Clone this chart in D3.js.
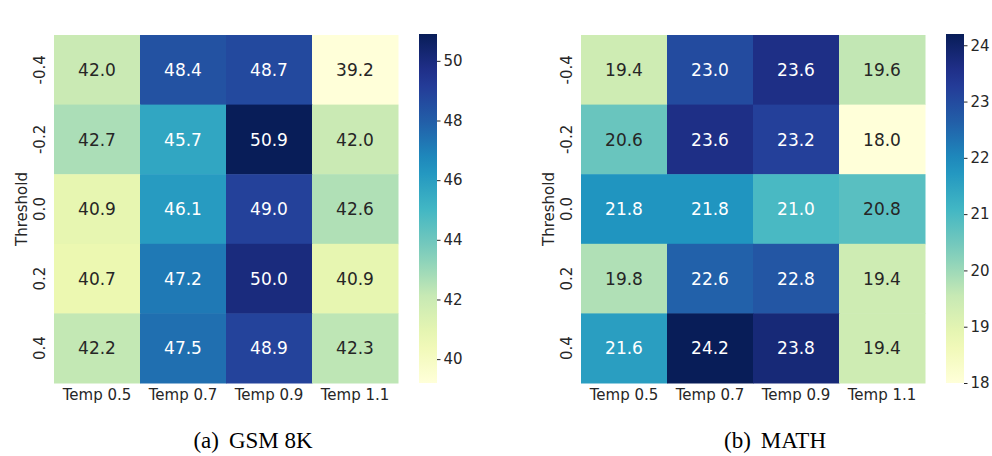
<!DOCTYPE html>
<html>
<head>
<meta charset="utf-8">
<script src="https://cdn.jsdelivr.net/npm/d3@7"></script>
<style>
  body { margin: 0; background: #fff; }
  text { font-family: "DejaVu Sans", sans-serif; }
  .caption { font-family: "Liberation Serif", "Times New Roman", serif; }
</style>
</head>
<body>
<div id="chart"></div>
<script>
// categories
var temps = ['Temp 0.5', 'Temp 0.7', 'Temp 0.9', 'Temp 1.1'];
var thresholds = ['-0.4', '-0.2', '0.0', '0.2', '0.4'];

// values, one row per threshold
var gsm8k = [
    [42.0, 48.4, 48.7, 39.2],
    [42.7, 45.7, 50.9, 42.0],
    [40.9, 46.1, 49.0, 42.6],
    [40.7, 47.2, 50.0, 40.9],
    [42.2, 47.5, 48.9, 42.3]
];
var math = [
    [19.4, 23.0, 23.6, 19.6],
    [20.6, 23.6, 23.2, 18.0],
    [21.8, 21.8, 21.0, 20.8],
    [19.8, 22.6, 22.8, 19.4],
    [21.6, 24.2, 23.8, 19.4]
];

// colorbar ticks
var gsmTicks = [40, 42, 44, 46, 48, 50];
var mathTicks = [18, 19, 20, 21, 22, 23, 24];

// YlGnBu (matplotlib segment colours)
var ylgnbu = ['#ffffd9', '#edf8b1', '#c7e9b4', '#7fcdbb', '#41b6c4',
              '#1d91c0', '#225ea8', '#253494', '#081d58'];
var cmap = d3.scaleLinear()
    .domain(d3.range(9).map(i => i / 8))
    .range(ylgnbu)
    .interpolate(d3.interpolateRgb)
    .clamp(true);

var W = 992, H = 456;
var svg = d3.select('#chart').append('svg')
    .attr('width', W)
    .attr('height', H);

var defs = svg.append('defs');

function luminance(c) {
    var rgb = d3.rgb(c);
    var lin = v => {
        v = v / 255;
        return v <= 0.03928 ? v / 12.92 : Math.pow((v + 0.055) / 1.055, 2.4);
    };
    return 0.2126 * lin(rgb.r) + 0.7152 * lin(rgb.g) + 0.0722 * lin(rgb.b);
}

function heatmap(opts) {
    var hm = { left: opts.left, top: 35, width: 344, height: 348 };
    var flat = d3.merge(opts.values);
    var vmin = d3.min(flat), vmax = d3.max(flat);
    var norm = d3.scaleLinear().domain([vmin, vmax]).range([0, 1]);

    var g = svg.append('g')
        .attr('transform', 'translate(' + hm.left + ',' + hm.top + ')');

    var x = d3.scaleBand().domain(temps).range([0, hm.width]);
    var y = d3.scaleBand().domain(thresholds).range([0, hm.height]);

    var cells = [];
    opts.values.forEach((row, i) => {
        row.forEach((v, j) => {
            cells.push({ t: thresholds[i], temp: temps[j], v: v });
        });
    });

    g.selectAll('.cell')
        .data(cells)
        .enter()
        .append('rect')
        .attr('class', 'cell')
        .attr('x', d => x(d.temp))
        .attr('y', d => y(d.t))
        .attr('width', x.bandwidth() + 0.5)
        .attr('height', y.bandwidth() + 0.5)
        .attr('fill', d => cmap(norm(d.v)));

    g.selectAll('.annot')
        .data(cells)
        .enter()
        .append('text')
        .attr('class', 'annot')
        .attr('x', d => x(d.temp) + x.bandwidth() / 2)
        .attr('y', d => y(d.t) + y.bandwidth() / 2)
        .attr('dy', '0.36em')
        .attr('text-anchor', 'middle')
        .style('font-size', '17px')
        .attr('fill', d => luminance(cmap(norm(d.v))) > 0.408 ? '#262626' : '#ffffff')
        .text(d => d.v.toFixed(1));

    // x axis
    var xAxis = g.append('g')
        .attr('transform', 'translate(0,' + hm.height + ')')
        .call(d3.axisBottom(x).tickSize(0).tickPadding(6));
    xAxis.select('.domain').remove();
    xAxis.selectAll('text')
        .style('font-size', '15px')
        .attr('fill', '#262626')
        .attr('font-family', null);

    // y axis, labels turned
    var yAxis = g.append('g')
        .call(d3.axisLeft(y).tickSize(0));
    yAxis.select('.domain').remove();
    yAxis.selectAll('text')
        .attr('x', 0)
        .attr('dy', 0)
        .attr('text-anchor', 'middle')
        .attr('transform', 'translate(-9,0) rotate(-90)')
        .style('font-size', '15px')
        .attr('fill', '#262626')
        .attr('font-family', null);

    g.append('text')
        .attr('transform', 'translate(-27,' + hm.height / 2 + ') rotate(-90)')
        .attr('text-anchor', 'middle')
        .style('font-size', '15px')
        .attr('fill', '#262626')
        .text('Threshold');

    // colorbar
    var cb = { x: hm.width + 21, w: 18 };
    var gid = 'grad' + opts.id;
    var grad = defs.append('linearGradient')
        .attr('id', gid)
        .attr('x1', 0).attr('y1', 1)
        .attr('x2', 0).attr('y2', 0);
    d3.range(0, 1.0001, 0.05).forEach(t => {
        grad.append('stop')
            .attr('offset', t)
            .attr('stop-color', cmap(t));
    });

    g.append('rect')
        .attr('x', cb.x)
        .attr('y', -1)
        .attr('width', cb.w)
        .attr('height', hm.height + 1)
        .attr('fill', 'url(#' + gid + ')');

    var cy = d3.scaleLinear().domain([vmin, vmax]).range([hm.height, -1]);
    var cAxis = g.append('g')
        .attr('transform', 'translate(' + (cb.x + cb.w) + ',0)')
        .call(d3.axisRight(cy).tickValues(opts.ticks).tickFormat(d3.format('d'))
            .tickSize(3.5).tickPadding(3));
    cAxis.select('.domain').remove();
    cAxis.selectAll('line').attr('stroke', '#262626');
    cAxis.selectAll('text')
        .style('font-size', '15px')
        .attr('fill', '#262626')
        .attr('font-family', null);

    var cap = svg.append('text')
        .attr('class', 'caption')
        .attr('x', opts.capX)
        .attr('y', 448)
        .attr('text-anchor', 'middle')
        .style('font-size', '23px')
        .attr('fill', '#000');
    cap.append('tspan').text(opts.tag);
    cap.append('tspan').attr('dx', 10).text(opts.caption);
}

heatmap({ id: 'a', left: 54, values: gsm8k, ticks: gsmTicks, tag: '(a)', caption: 'GSM 8K', capX: 253 });
heatmap({ id: 'b', left: 581, values: math, ticks: mathTicks, tag: '(b)', caption: 'MATH', capX: 775 });
</script>
</body>
</html>
